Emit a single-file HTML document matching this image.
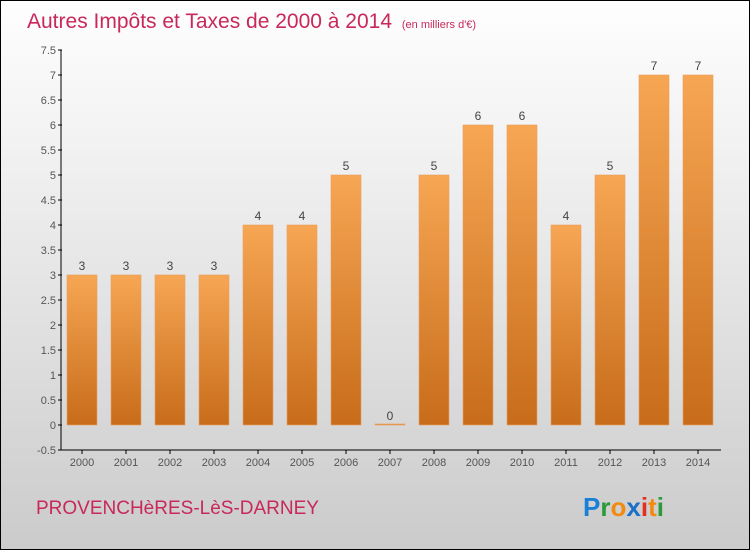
<!DOCTYPE html>
<html><head><meta charset="utf-8"><style>
body{margin:0}
#wrap{width:750px;height:550px;position:relative;box-sizing:border-box;border:1px solid #000;background:linear-gradient(#fefefe,#f0f0f0 30%,#cbcbcb);font-family:"Liberation Sans",sans-serif;overflow:hidden}
</style></head><body>
<div id="wrap">
<svg width="750" height="550" style="position:absolute;left:-1px;top:-1px">
<defs><linearGradient id="g" x1="0" y1="0" x2="0" y2="1"><stop offset="0" stop-color="#f7a653"/><stop offset="1" stop-color="#c76c1b"/></linearGradient></defs>
<text x="27" y="28" font-size="21" fill="#c8285a">Autres Impôts et Taxes de 2000 à 2014 <tspan font-size="11" dx="4">(en milliers d'€)</tspan></text>
<g id="yaxis"></g>
<g id="bars"></g>
<g id="xaxis"></g>
<text x="36" y="514" font-size="19" fill="#c8285a">PROVENCHèRES-LèS-DARNEY</text>
<text x="583" y="516" font-size="26" font-weight="bold"><tspan fill="#1a7fd6">P</tspan><tspan fill="#2a9a3a">r</tspan><tspan fill="#f28a10">o</tspan><tspan fill="#1a6fc8">x</tspan><tspan fill="#e03020">i</tspan><tspan fill="#f28a10">t</tspan><tspan fill="#2a9a3a">i</tspan></text>
</svg>
</div>
<script>
const years=["2000","2001","2002","2003","2004","2005","2006","2007","2008","2009","2010","2011","2012","2013","2014"];
const values=[3,3,3,3,4,4,5,0,5,6,6,4,5,7,7];
const yTicks=[-0.5,0,0.5,1,1.5,2,2.5,3,3.5,4,4.5,5,5.5,6,6.5,7,7.5];
const NS="http://www.w3.org/2000/svg";
const y=v=>425-v*50;
const x=i=>82+i*44;
function mk(t,a,p){const e=document.createElementNS(NS,t);for(const k in a)e.setAttribute(k,a[k]);p.appendChild(e);return e;}
const ya=document.getElementById('yaxis'),xa=document.getElementById('xaxis'),bg=document.getElementById('bars');
mk('line',{x1:61,y1:50,x2:61,y2:450,stroke:'#000'},ya);
yTicks.forEach(v=>{
 mk('line',{x1:58,y1:y(v),x2:62,y2:y(v),stroke:'#000'},ya);
 const t=mk('text',{x:56,y:y(v)+4,'text-anchor':'end','font-size':11,fill:'#555'},ya);
 
 
 t.textContent=String(v);
});
mk('line',{x1:61,y1:450,x2:721,y2:450,stroke:'#000'},xa);
years.forEach((yr,i)=>{
 mk('line',{x1:x(i),y1:450,x2:x(i),y2:454,stroke:'#000'},xa);
 const t=mk('text',{x:x(i),y:466,'text-anchor':'middle','font-size':11,fill:'#555'},xa);
 
 
 t.textContent=yr;
 const v=values[i];
 const h=Math.max(1,y(0)-y(v));
 const r=mk('rect',{x:x(i)-15,y:y(0)-h,width:30,height:h,fill:'url(#g)',stroke:'#e8a060','stroke-width':0.6},bg);
 
 
 const l=mk('text',{x:x(i),y:y(v)-5,'text-anchor':'middle','font-size':12,fill:'#444'},bg);
 
 
 l.textContent=String(v);
});
</script>
</body></html>
